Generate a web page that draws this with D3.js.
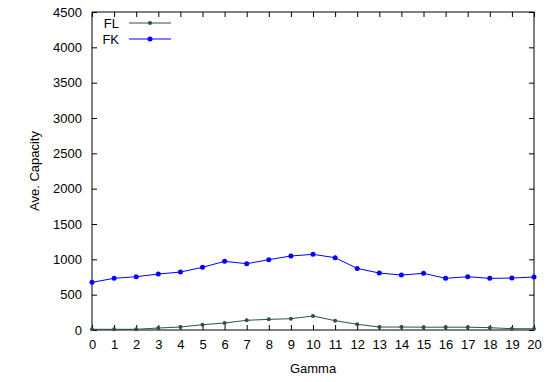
<!DOCTYPE html>
<html>
<head>
<meta charset="utf-8">
<script src="https://cdn.jsdelivr.net/npm/d3@7"></script>
<style>
  body { margin: 0; background: #fff; }
  svg text { font-family: "Liberation Sans", Arial, sans-serif; font-size: 13px; fill: #000; }
</style>
</head>
<body>
<div id="chart"></div>
<script>
// data
const gamma = d3.range(0, 21);
const flValues = [10, 10, 10, 28, 42, 75, 99, 137, 151, 160, 198, 132, 81, 42, 42, 40, 40, 40, 33, 18, 18];
const fkValues = [675, 731, 754, 792, 820, 887, 972, 938, 995, 1047, 1071, 1023, 872, 806, 778, 802, 731, 754, 731, 735, 750];
const yTicks = [0, 500, 1000, 1500, 2000, 2500, 3000, 3500, 4000, 4500];

var width = 553, height = 382;
var margin = { left: 92, right: 19, top: 12, bottom: 52 };

var svg = d3.select('#chart')
  .append('svg')
  .attr('width', width)
  .attr('height', height);

var x = d3.scaleLinear().domain([0, 20]).range([margin.left, width - margin.right]);
var y = d3.scaleLinear().domain([0, 4500]).range([height - margin.bottom, margin.top]);

// axes, gnuplot style: ticks inside, mirrored
var tick = 5;
svg.append('g')
  .attr('transform', `translate(0,${y(0)})`)
  .call(d3.axisBottom(x).tickValues(gamma).tickFormat(d3.format('d')).tickSizeInner(-tick).tickSizeOuter(0).tickPadding(10))
  .call(g => g.select('.domain').remove());
svg.append('g')
  .attr('transform', `translate(0,${y(4500)})`)
  .call(d3.axisTop(x).tickValues(gamma).tickFormat('').tickSizeInner(-tick).tickSizeOuter(0))
  .call(g => g.select('.domain').remove());
svg.append('g')
  .attr('transform', `translate(${x(0)},0)`)
  .call(d3.axisLeft(y).tickValues(yTicks).tickFormat(d3.format('d')).tickSizeInner(-tick).tickSizeOuter(0).tickPadding(10))
  .call(g => g.select('.domain').remove());
svg.append('g')
  .attr('transform', `translate(${x(20)},0)`)
  .call(d3.axisRight(y).tickValues(yTicks).tickFormat('').tickSizeInner(-tick).tickSizeOuter(0))
  .call(g => g.select('.domain').remove());

svg.selectAll('.tick line').attr('stroke', '#000');
svg.selectAll('.tick text').style('font-size', '13px').attr('font-family', null);

// frame
svg.append('rect')
  .attr('x', x(0)).attr('y', y(4500))
  .attr('width', x(20) - x(0)).attr('height', y(0) - y(4500))
  .attr('fill', 'none').attr('stroke', '#000').attr('stroke-width', 1);

// axis titles
svg.append('text')
  .attr('x', (x(0) + x(20)) / 2).attr('y', 373)
  .attr('text-anchor', 'middle')
  .text('Gamma');
svg.append('text')
  .attr('transform', `translate(39,${(y(0) + y(4500)) / 2}) rotate(-90)`)
  .attr('text-anchor', 'middle')
  .text('Ave. Capacity');

const series = [
  { name: 'FL', values: flValues, colour: '#2f4f4f', r: 2 },
  { name: 'FK', values: fkValues, colour: '#0000ff', r: 2.5 }
];

const line = d3.line()
  .x((d, i) => x(gamma[i]))
  .y(d => y(d));

series.forEach((s, k) => {
  svg.append('path')
    .datum(s.values)
    .attr('d', line)
    .attr('fill', 'none')
    .attr('stroke', s.colour)
    .attr('stroke-width', 1);
  svg.selectAll('.pt' + k)
    .data(s.values)
    .enter()
    .append('circle')
    .attr('cx', (d, i) => x(gamma[i]))
    .attr('cy', d => y(d))
    .attr('r', s.r)
    .attr('fill', s.colour);

  // legend
  var ly = 23 + k * 16;
  svg.append('text')
    .attr('x', 119).attr('y', ly + 5)
    .attr('text-anchor', 'end')
    .text(s.name);
  svg.append('line')
    .attr('x1', 129).attr('x2', 171)
    .attr('y1', ly).attr('y2', ly)
    .attr('stroke', s.colour).attr('stroke-width', 1);
  svg.append('circle')
    .attr('cx', 150).attr('cy', ly).attr('r', s.r)
    .attr('fill', s.colour);
});
</script>
</body>
</html>
